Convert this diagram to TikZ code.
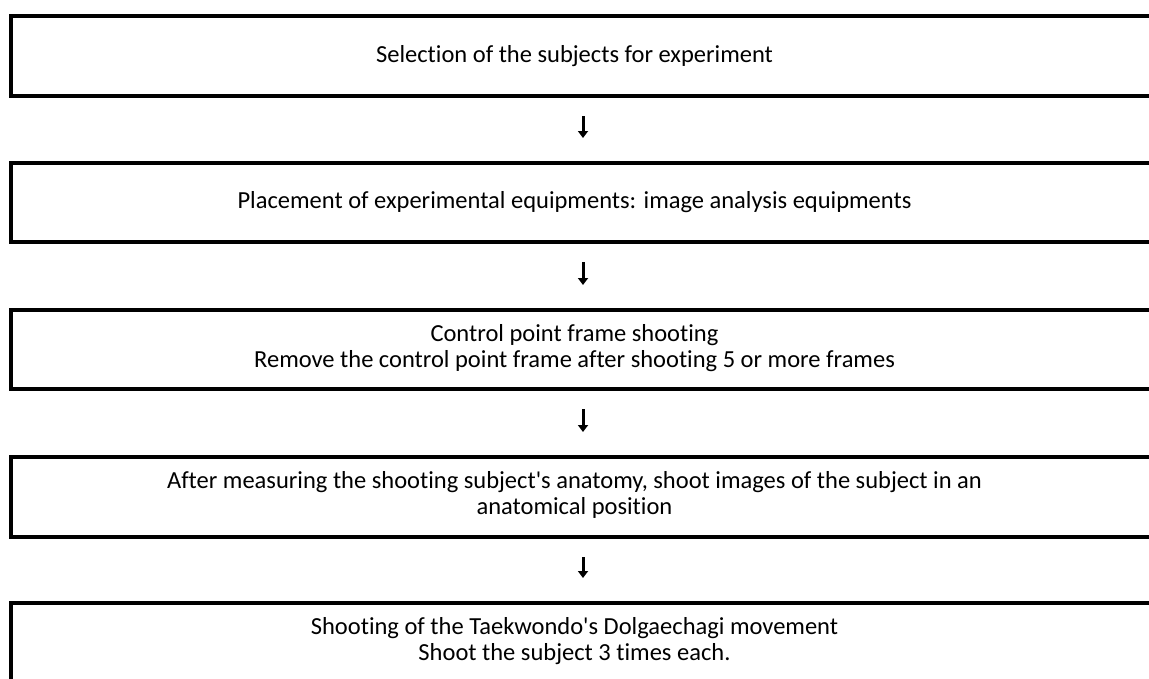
\documentclass[tikz,border=0pt]{standalone}
\usepackage{fontspec}
\setmainfont{Carlito}[Ligatures={NoCommon}]
\usetikzlibrary{arrows.meta}
\begin{document}
\begin{tikzpicture}[x=1pt,y=-1pt,
  box/.style={draw=black,line width=4pt,rectangle,inner sep=0pt,minimum width=1191pt,anchor=north west},
  lbl/.style={align=center,inner sep=0pt,font=\fontsize{24.5}{26}\selectfont},
  arr/.style={line width=3pt,-{Triangle[width=10pt,length=7pt]},shorten <=18pt,shorten >=23pt}]
\useasboundingbox (0,0) rectangle (1149,678);
\clip (0,0) rectangle (1149,678);
% boxes (right side runs past the page)
\node[box,minimum height=80pt] (b1) at (9,14) {};
\node[box,minimum height=79pt] (b2) at (9,161) {};
\node[box,minimum height=79pt] (b3) at (9,308) {};
\node[box,minimum height=80pt] (b4) at (9,455) {};
\node[box,minimum height=130pt] (b5) at (9,601) {};
% texts
\node[lbl] (t1) at (574.5,56) {Selection of the subjects for experiment};
\node[lbl] (t2) at (574.5,202) {Placement of experimental equipments: image analysis equipments};
\node[lbl] (t3) at (574.5,348) {Control point frame shooting\\Remove the control point frame after shooting 5 or more frames};
\node[lbl] (t4) at (574.5,495) {After measuring the shooting subject\textquotesingle s anatomy, shoot images of the subject in an\\anatomical position};
\node[lbl] (t5) at (574.5,641) {Shooting of the Taekwondo\textquotesingle s Dolgaechagi movement\\Shoot the subject 3 times each.};
% arrows
\coordinate (ax) at (583,0);
\draw[arr] (b1.south -| ax) -- (b2.north -| ax);
\draw[arr] (b2.south -| ax) -- (b3.north -| ax);
\draw[arr] (b3.south -| ax) -- (b4.north -| ax);
\draw[arr] (b4.south -| ax) -- (b5.north -| ax);
\end{tikzpicture}
\end{document}
